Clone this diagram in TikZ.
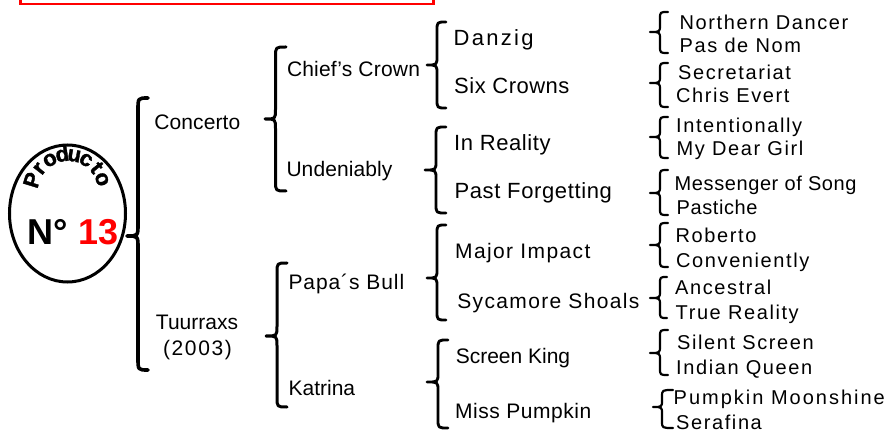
\documentclass[tikz,border=0pt]{standalone}
\usepackage{fontspec}
\setmainfont{Liberation Sans}
\newfontfamily\prodfont[BoldFeatures={FakeBold=1.5}]{Liberation Sans}
\newcommand\lsp[1]{\addfontfeature{LetterSpace=#1}}
\usetikzlibrary{shapes.geometric}
% xt xm xr yt ym yb r lw
\newcommand\brc[8]{\draw[bracestroke, line width=#8pt] (#3,#4) .. controls (#2,#4) .. (#2,{#4+#7}) -- (#2,{#5-#7}) .. controls (#2,#5) .. (#1,#5) .. controls (#2,#5) .. (#2,{#5+#7}) -- (#2,{#6-#7}) .. controls (#2,#6) .. (#3,#6);}
\begin{document}
\begin{tikzpicture}[x=1pt,y=-1pt,
  bracestroke/.style={black, line cap=round, line join=round},
  lbl/.style={inner sep=0pt, anchor=base west, font=\fontsize{20}{24}\selectfont},
  lblm/.style={inner sep=0pt, anchor=base west, font=\fontsize{21}{24}\selectfont},
  lblb/.style={inner sep=0pt, anchor=base west, font=\fontsize{22}{24}\selectfont},
  clbl/.style={inner sep=0pt, anchor=base, font=\fontsize{21}{24}\selectfont},
  prod/.style={inner sep=0pt, anchor=base, font=\prodfont\bfseries\fontsize{22}{22}\selectfont}]
\useasboundingbox (0,0) rectangle (886,430);
\clip (0,0) rectangle (886,430);
% red frame (top, cut off)
\draw[red, line width=2.7pt] (20.7,-20) rectangle (433.7,4);
% ellipse
\node[draw, ellipse, line width=3pt, inner sep=0pt, minimum width=116pt, minimum height=137pt] (ell) at (67.5,213.5) {};
\foreach \ch/\a [count=\i] in {P/163,r/142,o/120,d/99,u/80,c/60,t/39,o/19}
  \node[prod, rotate=\a-90] (pr\i) at ({68+30*cos(\a)},{191-30*sin(\a)}) {\ch};
\node[inner sep=0pt, anchor=base west, font=\bfseries\fontsize{36}{36}\selectfont] (num) at (27.5,245) {N° \textcolor{red}{13}};
% braces
\brc{127}{138}{148}{98}{236}{370}{12}{3.6}
\brc{265}{275.5}{286}{47}{119}{191}{10}{3}
\brc{266}{277}{287}{263}{336}{407}{10}{3}
\brc{427}{437}{446}{22}{65}{108}{9}{2.8}
\brc{425}{436}{446}{127}{170}{213}{9}{2.8}
\brc{427}{437}{446}{225}{278}{320}{9}{2.8}
\brc{427}{438}{448}{340}{382}{428}{9}{2.8}
\brc{650}{660}{668}{12}{32}{53}{7}{2.2}
\brc{650}{660}{668}{63}{83}{107}{7}{2.2}
\brc{650}{660}{668}{117}{137}{158}{7}{2.2}
\brc{650}{660}{668}{170}{193}{215}{7}{2.2}
\brc{650}{660}{668}{223}{245}{267}{7}{2.2}
\brc{650}{660}{667}{277}{298}{318}{7}{2.2}
\brc{650}{660}{668}{330}{353}{375}{7}{2.2}
\brc{653}{662}{673}{390}{407}{428}{7}{2.2}
% level 2
\node[lblm] (concerto) at (154.2,130) {\lsp{0.5}Concerto};
\node[clbl] (tuurraxs) at (197,330) {Tuurraxs};
\node[clbl] (year) at (197.5,355) {\lsp{7.9}(2003)};
% level 3
\node[lblm] (chief) at (286.8,77) {\lsp{1}Chief's Crown};
\node[lblm] (undeniably) at (286.3,176.7) {\lsp{0.5}Undeniably};
\node[lblm] (papa) at (288.3,290) {\lsp{4.4}Papa´s Bull};
\node[lblm] (katrina) at (288.4,395) {Katrina};
% level 4
\node[lblb] (danzig) at (453.4,45.7) {\lsp{10.5}Danzig};
\node[lblb] (six) at (454,94) {\lsp{2.3}Six Crowns};
\node[lblb] (inreality) at (454,150.7) {\lsp{2.7}In Reality};
\node[lblb] (past) at (454.3,199) {\lsp{2.9}Past Forgetting};
\node[lblm] (major) at (455,258.3) {\lsp{6.6}Major Impact};
\node[lblm] (sycamore) at (457.2,308.3) {\lsp{6.4}Sycamore Shoals};
\node[lblm] (screen) at (455.6,363.3) {Screen King};
\node[lblm] (miss) at (455,418.3) {\lsp{2.6}Miss Pumpkin};
% level 5
\node[lbl] (northern) at (679.5,29.5) {\lsp{8}Northern Dancer};
\node[lbl] (pas) at (679.5,53) {\lsp{8}Pas de Nom};
\node[lbl] (secretariat) at (678,79.5) {\lsp{8}Secretariat};
\node[lbl] (chris) at (676,103) {\lsp{8}Chris Evert};
\node[lbl] (intentionally) at (676,133) {\lsp{8}Intentionally};
\node[lbl] (mydear) at (676.5,156) {\lsp{8}My Dear Girl};
\node[lbl] (messenger) at (674.5,191) {\lsp{3}Messenger of Song};
\node[lbl] (pastiche) at (676.5,214.5) {\lsp{3}Pastiche};
\node[lbl] (roberto) at (675.5,243) {\lsp{8}Roberto};
\node[lbl] (conveniently) at (676,268) {\lsp{8}Conveniently};
\node[lbl] (ancestral) at (675,294.5) {\lsp{8}Ancestral};
\node[lbl] (truereality) at (675.5,319.5) {\lsp{8}True Reality};
\node[lbl] (silent) at (677,349.5) {\lsp{8}Silent Screen};
\node[lbl] (indian) at (676,374.5) {\lsp{8}Indian Queen};
\node[lbl] (pumpkin) at (673.5,404.5) {\lsp{10}Pumpkin Moonshine};
\node[lbl] (serafina) at (676,429) {\lsp{8}Serafina};
\end{tikzpicture}
\end{document}
